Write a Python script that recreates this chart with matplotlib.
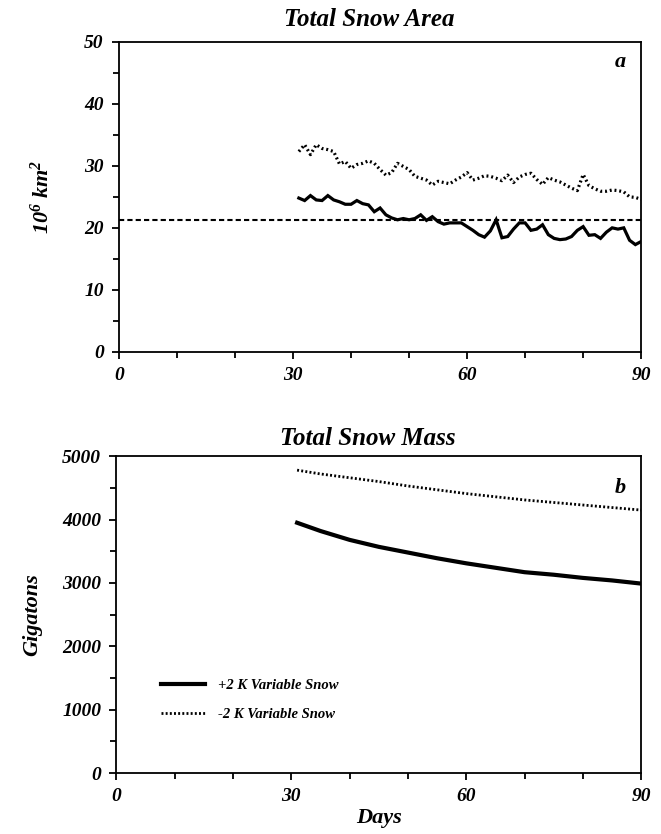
import numpy as np
import matplotlib
matplotlib.use("Agg")
import matplotlib.pyplot as plt
from matplotlib.ticker import MultipleLocator

plt.rcParams['font.family'] = 'Liberation Serif'
plt.rcParams['font.weight'] = 'bold'
plt.rcParams['font.style'] = 'italic'
plt.rcParams['axes.titleweight'] = 'bold'
plt.rcParams['axes.labelweight'] = 'bold'
plt.rcParams['mathtext.fontset'] = 'custom'
plt.rcParams['mathtext.rm'] = 'Liberation Serif:italic:bold'
plt.rcParams['mathtext.it'] = 'Liberation Serif:italic:bold'
plt.rcParams['mathtext.bf'] = 'Liberation Serif:italic:bold'

# daily snow area, 10^6 km^2 (days 31-90)
days = np.arange(31, 91)
area_warm = [24.8, 24.4, 25.2, 24.5, 24.4, 25.2, 24.5, 24.2, 23.8, 23.8,
             24.4, 23.9, 23.7, 22.6, 23.2, 22.1, 21.6, 21.3, 21.5, 21.3,
             21.5, 22.1, 21.2, 21.8, 21.0, 20.6, 20.8, 20.8, 20.8, 20.2,
             19.6, 18.9, 18.5, 19.5, 21.3, 18.4, 18.6, 19.8, 20.8, 20.8,
             19.6, 19.8, 20.5, 18.9, 18.3, 18.1, 18.2, 18.6, 19.6, 20.2,
             18.8, 18.9, 18.3, 19.3, 20.0, 19.8, 20.0, 18.0, 17.3, 17.8]
area_cold = [32.3, 33.4, 31.8, 33.4, 32.8, 32.6, 32.3, 30.3, 30.7, 29.6,
             30.2, 30.4, 30.8, 30.4, 29.4, 28.5, 28.9, 30.4, 29.9, 29.4,
             28.3, 28.0, 27.7, 26.9, 27.5, 27.3, 27.1, 27.7, 28.2, 28.9,
             27.7, 28.0, 28.4, 28.3, 28.0, 27.6, 28.5, 27.3, 28.2, 28.6,
             28.8, 27.8, 27.0, 28.1, 27.7, 27.4, 26.9, 26.4, 26.0, 28.6,
             26.8, 26.3, 25.9, 25.9, 26.1, 26.0, 25.8, 25.0, 24.9, 24.6]
area_control = 21.2

# snow mass, gigatons
mass_days = [31, 35, 40, 45, 50, 55, 60, 65, 70, 75, 80, 85, 90]
mass_warm = [3950, 3820, 3680, 3570, 3480, 3390, 3310, 3240, 3170, 3130, 3080, 3040, 2990]
mass_cold = [4780, 4720, 4660, 4600, 4530, 4470, 4410, 4360, 4310, 4270, 4230, 4190, 4150]

labels = ['+2 K Variable Snow', '-2 K Variable Snow']

fig = plt.figure(figsize=(6.61, 8.34), dpi=100)
ax1 = fig.add_axes([0.180, 0.578, 0.790, 0.372])
ax2 = fig.add_axes([0.176, 0.073, 0.794, 0.380])

def style_axis(ax, ymax, ystep):
    ax.set_xlim(0, 90)
    ax.set_ylim(0, ymax)
    ax.xaxis.set_major_locator(MultipleLocator(30))
    ax.xaxis.set_minor_locator(MultipleLocator(10))
    ax.yaxis.set_major_locator(MultipleLocator(ystep))
    ax.yaxis.set_minor_locator(MultipleLocator(ystep / 2))
    ax.tick_params(which='both', direction='out', width=1.3, labelsize=14)
    ax.tick_params(which='major', length=5, pad=6)
    ax.tick_params(which='minor', length=4)
    for s in ax.spines.values():
        s.set_linewidth(1.3)

# panel a
ax1.plot(days, area_warm, color='black', lw=2.3, solid_joinstyle='miter')
ax1.plot(days, area_cold, color='black', lw=2.3, linestyle=(0, (0.6, 0.9)))
ax1.axhline(area_control, color='black', lw=1.5, linestyle=(0, (2.5, 1.5)))
style_axis(ax1, 50, 10)
ax1.set_title('Total Snow Area', fontsize=18, pad=11, x=0.48)
ax1.set_ylabel('10$^6$ km$^2$', fontsize=16, labelpad=22)
ax1.text(0.96, 0.92, 'a', transform=ax1.transAxes, fontsize=16, ha='center')

# panel b
ax2.plot(mass_days, mass_warm, color='black', lw=3.0, label=labels[0])
ax2.plot(mass_days, mass_cold, color='black', lw=2.0, linestyle=(0, (0.7, 0.8)),
         label=labels[1])
style_axis(ax2, 5000, 1000)
ax2.set_title('Total Snow Mass', fontsize=18, pad=8, x=0.48)
ax2.set_ylabel('Gigatons', fontsize=16, labelpad=14)
ax2.set_xlabel('Days', fontsize=16, labelpad=2)
ax2.text(0.96, 0.885, 'b', transform=ax2.transAxes, fontsize=16, ha='center')
ax2.legend(loc='upper left', bbox_to_anchor=(0.06, 0.34), frameon=False,
           fontsize=10.5, handlelength=3.0, handletextpad=0.9, labelspacing=1.1)

fig.savefig('out.png', dpi=100)
